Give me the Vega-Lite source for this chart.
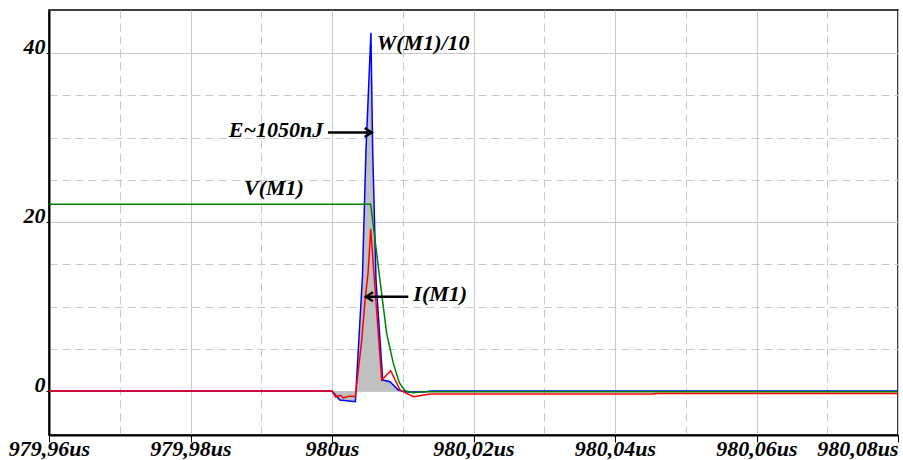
{
  "$schema": "https://vega.github.io/schema/vega-lite/v6.json",
  "width": 849,
  "height": 425,
  "autosize": "none",
  "padding": {"left": 49, "top": 10, "right": 5, "bottom": 25},
  "background": "white",
  "config": {
    "view": {"stroke": "#000000", "strokeWidth": 1.5},
    "text": {"font": "Liberation Serif", "fontStyle": "italic", "fontWeight": "bold", "fontSize": 22, "color": "#000000"}
  },
  "datasets": {
    "series": [
      {"s": "W", "t": -40, "v": 0},
      {"s": "W", "t": 0, "v": 0},
      {"s": "W", "t": 1.1, "v": -1.07},
      {"s": "W", "t": 3.3, "v": -1.27},
      {"s": "W", "t": 4.3, "v": 13.5},
      {"s": "W", "t": 4.8, "v": 28.5},
      {"s": "W", "t": 5.5, "v": 42.4},
      {"s": "W", "t": 5.75, "v": 28.5},
      {"s": "W", "t": 6.22, "v": 13.1},
      {"s": "W", "t": 6.4, "v": 10.8},
      {"s": "W", "t": 7.17, "v": 1.3},
      {"s": "W", "t": 8.2, "v": 1.1},
      {"s": "W", "t": 9.37, "v": 0.12},
      {"s": "W", "t": 10.5, "v": -0.1},
      {"s": "W", "t": 13, "v": -0.1},
      {"s": "W", "t": 14, "v": 0},
      {"s": "W", "t": 80, "v": 0},
      {"s": "I", "t": -40, "v": 0},
      {"s": "I", "t": 0, "v": 0},
      {"s": "I", "t": 0.5, "v": -0.7},
      {"s": "I", "t": 1.2, "v": -0.5},
      {"s": "I", "t": 1.6, "v": -0.8},
      {"s": "I", "t": 2.5, "v": -0.6},
      {"s": "I", "t": 3.3, "v": -0.65},
      {"s": "I", "t": 4.2, "v": 6.0},
      {"s": "I", "t": 4.7, "v": 11.0},
      {"s": "I", "t": 5.1, "v": 14.0},
      {"s": "I", "t": 5.47, "v": 19.2},
      {"s": "I", "t": 7.02, "v": 1.3},
      {"s": "I", "t": 8.3, "v": 2.4},
      {"s": "I", "t": 9.61, "v": 0.12},
      {"s": "I", "t": 11.49, "v": -0.67},
      {"s": "I", "t": 13.85, "v": -0.35},
      {"s": "I", "t": 45.2, "v": -0.35},
      {"s": "I", "t": 46, "v": -0.28},
      {"s": "I", "t": 80, "v": -0.28},
      {"s": "V", "t": -40, "v": 22.1},
      {"s": "V", "t": 5.47, "v": 22.1},
      {"s": "V", "t": 6.78, "v": 13.1},
      {"s": "V", "t": 7.25, "v": 10.0},
      {"s": "V", "t": 7.73, "v": 6.8},
      {"s": "V", "t": 8.66, "v": 3.3},
      {"s": "V", "t": 9.51, "v": 1.0},
      {"s": "V", "t": 10.32, "v": 0.05},
      {"s": "V", "t": 11.49, "v": -0.2},
      {"s": "V", "t": 13, "v": -0.08},
      {"s": "V", "t": 80, "v": -0.08}
    ],
    "labels": [
      {"label": "W(M1)/10", "t": 6.32, "v": 40.35},
      {"label": "E~1050nJ", "t": -1.23, "v": 30.06},
      {"label": "V(M1)", "t": -8.2, "v": 23.2},
      {"label": "I(M1)", "t": 11.5, "v": 10.65}
    ],
    "arrows": [
      {"name": "E", "t_from": -0.57, "t_to": 5.61, "v": 30.6},
      {"name": "I", "t_from": 10.78, "t_to": 4.8, "v": 11.16}
    ]
  },
  "layer": [
    {
      "data": {"name": "series"},
      "transform": [{"filter": "datum.s === 'W' && datum.t >= 0 && datum.t <= 14"}],
      "mark": {"type": "area", "color": "#c0c0c0", "opacity": 1},
      "encoding": {
        "x": {
          "field": "t", "type": "quantitative",
          "scale": {"domain": [-40, 80], "nice": false, "zero": false},
          "axis": {
            "values": [-40, -35, -30, -25, -20, -15, -10, -5, 0, 5, 10, 15, 20, 25, 30, 35, 40, 45, 50, 55, 60, 65, 70, 75, 80],
            "title": null,
            "grid": true,
            "gridColor": "#c8c8c8",
            "gridWidth": 1,
            "gridDash": {"condition": {"test": "datum.value % 20 === 0", "value": []}, "value": [8, 5]},
            "domainColor": "#000000",
            "domainWidth": 2,
            "tickColor": "#000000",
            "tickSize": 7,
            "tickWidth": 1,
            "tickOpacity": {"condition": {"test": "datum.value % 20 === 0", "value": 1}, "value": 0},
            "labelExpr": "datum.value % 20 === 0 ? replace(format(980 + datum.value / 1000, '.2~f'), '.', ',') + 'us' : ''",
            "labelFont": "Liberation Serif",
            "labelFontStyle": "italic",
            "labelFontWeight": "bold",
            "labelFontSize": 22,
            "labelColor": "#000000",
            "labelBaseline": "alphabetic",
            "labelPadding": 13,
            "labelAlign": {"condition": {"test": "datum.value === 80", "value": "right"}, "value": "center"},
            "labelOverlap": false,
            "labelBound": false,
            "labelFlush": false
          }
        },
        "y": {
          "field": "v", "type": "quantitative",
          "scale": {"domain": [-5.2, 45.1], "nice": false, "zero": false},
          "axis": {
            "values": [0, 5, 10, 15, 20, 25, 30, 35, 40],
            "title": null,
            "grid": true,
            "gridColor": "#c8c8c8",
            "gridWidth": 1,
            "gridDash": {"condition": {"test": "datum.value % 20 === 0", "value": []}, "value": [8, 5]},
            "domainColor": "#000000",
            "domainWidth": 2,
            "tickColor": "#000000",
            "tickSize": 3,
            "tickOpacity": {"condition": {"test": "datum.value % 20 === 0", "value": 1}, "value": 0},
            "labelExpr": "datum.value % 20 === 0 ? datum.value : ''",
            "labelFont": "Liberation Serif",
            "labelFontStyle": "italic",
            "labelFontWeight": "bold",
            "labelFontSize": 22,
            "labelColor": "#000000",
            "labelPadding": 1,
            "labelBaseline": "alphabetic",
            "labelOverlap": false
          }
        },
        "y2": {"datum": 0}
      }
    },
    {
      "data": {"name": "series"},
      "transform": [{"filter": "datum.s === 'W'"}],
      "mark": {"type": "line", "color": "#0000ff", "strokeWidth": 1.5},
      "encoding": {"x": {"field": "t", "type": "quantitative"}, "y": {"field": "v", "type": "quantitative"}}
    },
    {
      "data": {"name": "series"},
      "transform": [{"filter": "datum.s === 'V'"}],
      "mark": {"type": "line", "color": "#008000", "strokeWidth": 1.5},
      "encoding": {"x": {"field": "t", "type": "quantitative"}, "y": {"field": "v", "type": "quantitative"}}
    },
    {
      "data": {"name": "series"},
      "transform": [{"filter": "datum.s === 'I'"}],
      "mark": {"type": "line", "color": "#ff0000", "strokeWidth": 1.5},
      "encoding": {"x": {"field": "t", "type": "quantitative"}, "y": {"field": "v", "type": "quantitative"}}
    },
    {
      "data": {"name": "arrows"},
      "mark": {"type": "rule", "color": "#000000", "strokeWidth": 2.5},
      "encoding": {
        "x": {"field": "t_from", "type": "quantitative"},
        "x2": {"field": "t_to"},
        "y": {"field": "v", "type": "quantitative"}
      }
    },
    {
      "data": {"name": "arrows"},
      "transform": [{"filter": "datum.name === 'E'"}],
      "mark": {"type": "point", "shape": "M-1,-0.65L0,0L-1,0.65", "filled": false, "stroke": "#000000", "strokeWidth": 2.5, "size": 196, "opacity": 1},
      "encoding": {"x": {"field": "t_to", "type": "quantitative"}, "y": {"field": "v", "type": "quantitative"}}
    },
    {
      "data": {"name": "arrows"},
      "transform": [{"filter": "datum.name === 'I'"}],
      "mark": {"type": "point", "shape": "M1,-0.65L0,0L1,0.65", "filled": false, "stroke": "#000000", "strokeWidth": 2.5, "size": 196, "opacity": 1},
      "encoding": {"x": {"field": "t_to", "type": "quantitative"}, "y": {"field": "v", "type": "quantitative"}}
    },
    {
      "data": {"name": "labels"},
      "transform": [{"filter": "datum.label === 'W(M1)/10' || datum.label === 'I(M1)'"}],
      "mark": {"type": "text", "align": "left", "baseline": "alphabetic"},
      "encoding": {"x": {"field": "t", "type": "quantitative"}, "y": {"field": "v", "type": "quantitative"}, "text": {"field": "label"}}
    },
    {
      "data": {"name": "labels"},
      "transform": [{"filter": "datum.label === 'E~1050nJ'"}],
      "mark": {"type": "text", "align": "right", "baseline": "alphabetic"},
      "encoding": {"x": {"field": "t", "type": "quantitative"}, "y": {"field": "v", "type": "quantitative"}, "text": {"field": "label"}}
    },
    {
      "data": {"name": "labels"},
      "transform": [{"filter": "datum.label === 'V(M1)'"}],
      "mark": {"type": "text", "align": "center", "baseline": "alphabetic"},
      "encoding": {"x": {"field": "t", "type": "quantitative"}, "y": {"field": "v", "type": "quantitative"}, "text": {"field": "label"}}
    }
  ]
}
